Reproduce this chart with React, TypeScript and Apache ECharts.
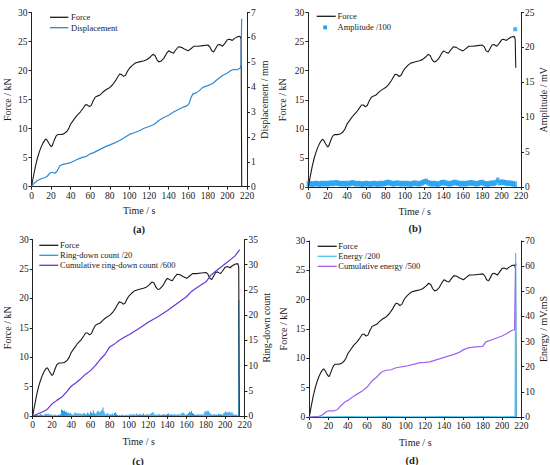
import React, { useEffect, useRef } from "react";
import * as echarts from "echarts";

// ---------- data ----------
const forceTime = [0, 2, 4, 6, 8, 10, 12, 14, 15, 16, 18, 20, 21, 23, 25, 27, 30, 33, 36, 38, 40, 43, 46, 50, 53, 55, 57, 59, 61, 63, 65, 67, 70, 73, 76, 80, 83, 86, 88, 90, 92, 94, 96, 98, 100, 103, 106, 110, 115, 118, 121, 124, 126, 128, 130, 132, 135, 138, 140, 143, 145, 147, 150, 153, 156, 160, 163, 166, 170, 175, 180, 182, 184, 186, 188, 190, 192, 195, 197, 200, 202, 205, 207, 210, 213, 214];
const forceKN = [0, 1.8, 3.5, 4.9, 6.0, 6.9, 7.6, 8.1, 8.2, 8.0, 7.4, 6.9, 7.0, 7.9, 8.7, 9.0, 9.0, 9.1, 9.5, 10.0, 10.8, 11.5, 12.2, 12.9, 13.6, 14.1, 14.1, 13.8, 14.0, 14.8, 15.4, 15.6, 15.8, 16.3, 16.7, 17.1, 17.6, 18.3, 18.9, 19.4, 19.3, 19.0, 19.2, 19.9, 20.4, 20.9, 21.3, 21.5, 21.7, 21.9, 22.3, 22.8, 22.6, 21.9, 21.5, 21.6, 22.1, 23.0, 23.4, 23.1, 23.0, 23.5, 24.1, 24.0, 23.7, 23.4, 23.8, 24.2, 24.2, 24.3, 24.4, 24.1, 23.4, 23.2, 23.8, 24.4, 24.5, 24.2, 24.6, 25.3, 25.4, 25.2, 25.5, 25.8, 25.9, 25.4];
const forceEndTime = 214.6;
const forceEndA = 0;
const forceEndB = 20.5;

const dispTime = [0, 3, 6, 10, 14, 16, 19, 21, 24, 26, 29, 32, 36, 40, 44, 48, 52, 56, 60, 64, 68, 72, 76, 80, 85, 90, 95, 100, 105, 110, 115, 120, 125, 130, 135, 140, 145, 150, 155, 159, 161, 163, 165, 168, 171, 175, 180, 185, 190, 195, 200, 203, 206, 210, 213, 214, 214.5];
const dispMM = [0, 0.15, 0.25, 0.32, 0.37, 0.42, 0.55, 0.58, 0.54, 0.62, 0.84, 0.9, 0.93, 0.97, 1.04, 1.12, 1.18, 1.22, 1.32, 1.38, 1.46, 1.54, 1.62, 1.68, 1.76, 1.86, 1.98, 2.1, 2.17, 2.25, 2.35, 2.42, 2.5, 2.66, 2.78, 2.87, 3.0, 3.1, 3.2, 3.26, 3.35, 3.6, 3.74, 3.76, 3.85, 3.99, 4.06, 4.15, 4.32, 4.47, 4.57, 4.66, 4.71, 4.7, 4.76, 4.9, 6.75];

// amplitude /100, every 2 s from t = 0
const amplitudeStep = 2;
const amplitude = [
  0.9, 0.85, 0.8, 0.85, 0.9, 0.85, 0.8, 0.9, 0.85, 0.9,
  0.85, 0.9, 0.95, 0.9, 1.0, 0.95, 0.9, 0.85, 0.9, 0.85,
  0.9, 0.85, 0.95, 1.0, 0.9, 0.85, 0.9, 0.85, 0.8, 0.85,
  0.9, 0.85, 0.8, 0.85, 0.9, 0.85, 0.8, 0.9, 0.85, 0.9,
  0.95, 1.05, 1.0, 0.9, 0.85, 0.9, 0.95, 0.9, 0.85, 0.9,
  0.85, 0.9, 0.85, 0.8, 0.9, 0.95, 0.9, 0.85, 0.9, 1.0,
  1.15, 1.2, 1.0, 0.9, 0.85, 0.9, 0.85, 0.8, 0.9, 1.0,
  1.05, 0.95, 0.9, 0.85, 0.9, 1.0, 1.05, 0.95, 0.9, 0.85,
  0.9, 0.85, 0.9, 0.95, 1.0, 0.95, 0.9, 0.85, 0.9, 1.0,
  1.05, 0.9, 0.85, 0.8, 0.9, 0.95, 0.9, 1.05, 1.35, 1.0,
  1.1, 1.05, 1.0, 0.9, 0.95, 0.9, 0.85, 0.8,
];
const amplitudeOutlier = [214, 22.6];

// ring-down count /20, every 1 s from t = 0
const ringDown = [
  0, 0, 0.1, 0.2, 0.3, 0.2, 0.1, 0.2, 0.4, 0.3,
  0.2, 0.1, 0.2, 0.5, 0.4, 0.3, 0.5, 0.3, 0.2, 0.4,
  0.1, 0.2, 0.1, 0.3, 0.2, 0.1, 0.2, 0.3, 0.2, 0.4,
  1.3, 1.2, 1.0, 1.1, 0.8, 0.9, 0.6, 0.7, 0.5, 0.6,
  0.4, 0.3, 0.2, 0.5, 0.7, 0.6, 0.4, 0.5, 0.6, 0.3,
  0.5, 0.4, 0.3, 0.6, 0.5, 0.4, 0.3, 0.7, 0.5, 0.3,
  0.9, 0.7, 0.5, 1.1, 0.6, 0.4, 0.5, 0.9, 1.0, 0.7,
  0.8, 1.0, 1.2, 1.7, 0.9, 0.5, 0.3, 0.4, 0.6, 0.3,
  0.2, 0.4, 0.3, 0.5, 0.2, 0.6, 0.7, 0.4, 0.2, 0.1,
  0.2, 0.1, 0.2, 0.3, 0.1, 0.2, 0.1, 0.3, 0.2, 0.1,
  0.3, 0.2, 0.4, 0.3, 0.2, 0.4, 0.3, 0.2, 0.5, 0.3,
  0.2, 0.4, 0.3, 0.2, 0.3, 0.5, 0.2, 0.3, 0.2, 0.4,
  0.3, 0.2, 0.4, 0.5, 0.6, 0.8, 0.4, 0.3, 0.2, 0.3,
  0.2, 0.4, 0.3, 0.2, 0.3, 0.2, 0.4, 0.3, 0.2, 0.3,
  0.4, 0.5, 0.3, 0.2, 0.4, 0.3, 0.2, 0.4, 0.3, 0.2,
  0.3, 0.4, 0.2, 0.3, 0.5, 0.4, 0.7, 0.6, 0.3, 0.2,
  0.3, 0.4, 0.6, 0.9, 0.7, 1.0, 0.6, 0.4, 0.3, 0.2,
  0.3, 0.2, 0.4, 0.3, 0.2, 0.4, 0.3, 0.2, 0.5, 0.9,
  1.0, 0.8, 1.1, 0.9, 0.6, 0.4, 0.3, 0.2, 0.3, 0.4,
  0.2, 0.3, 0.2, 0.4, 0.3, 0.4, 0.3, 0.2, 0.5, 0.6,
  0.9, 0.7, 0.8, 0.6, 0.9, 0.7, 0.5, 0.8, 0.4, 0.3,
  0.2, 0.3, 0.2, 0.1, 23.0,
];

const cumRingTime = [0, 5, 10, 15, 20, 25, 30, 35, 40, 45, 50, 55, 60, 65, 70, 75, 80, 85, 90, 95, 100, 110, 120, 130, 140, 150, 160, 165, 170, 180, 185, 190, 200, 210, 213, 215];
const cumRingVal = [0, 0.4, 0.8, 1.3, 2.4, 3.1, 3.7, 4.75, 5.9, 6.6, 7.4, 8.3, 9.0, 10.0, 11.2, 12.2, 13.7, 14.3, 15.0, 15.6, 16.1, 17.3, 18.6, 19.7, 20.9, 22.3, 23.7, 24.7, 25.4, 26.6, 27.9, 28.7, 30.2, 31.7, 32.5, 33.0];

const energyTime = [0, 20, 40, 60, 80, 100, 120, 140, 160, 180, 200, 213.6, 214.1, 214.6];
const energyVal = [0, 0.1, 0.2, 0.1, 0.2, 0.1, 0.1, 0.2, 0.1, 0.2, 0.1, 0.2, 65.2, 0];

const cumEnergyTime = [0, 10, 13, 15, 18, 20, 25, 29, 33, 37, 40, 45, 50, 55, 60, 65, 70, 75, 80, 85, 90, 100, 110, 115, 120, 125, 130, 140, 150, 155, 160, 165, 170, 180, 183, 190, 200, 205, 210, 213, 214, 215];
const cumEnergyVal = [0, 0.3, 0.7, 1.3, 2.2, 2.4, 2.4, 2.9, 4.6, 6.0, 6.6, 8.0, 9.2, 10.3, 11.9, 14.3, 15.9, 17.9, 18.6, 18.8, 19.6, 20.2, 21.1, 21.6, 21.7, 21.9, 22.5, 23.7, 24.9, 25.6, 26.8, 27.5, 27.8, 28.1, 29.8, 30.8, 32.2, 33.2, 34.4, 34.7, 60.3, 61.0];

// ---------- styling ----------
const FONT = "Liberation Serif";
const INK = "#1a1a1a";
const C_FORCE = "#1a1a1a";
const C_DISP = "#2b8ad6";
const C_AMP = "#1e9ff0";
const C_RING = "#1f9be8";
const C_CUMRING = "#6b35d4";
const C_ENERGY = "#4cc3f3";
const C_CUMEN = "#a062f0";

const pairs = (ts: number[], vs: number[]) => ts.map((t, i) => [t, vs[i]]);

const forceA = [...pairs(forceTime, forceKN), [forceEndTime, forceEndA]];
const forceB = [...pairs(forceTime, forceKN), [forceEndTime, forceEndB]];

const grids = [
  { left: 31.5, top: 12.5, width: 215.5, height: 174.2 },
  { left: 308.3, top: 12.5, width: 212.7, height: 174.5 },
  { left: 32.7, top: 239.5, width: 211.8, height: 176.5 },
  { left: 309.3, top: 241, width: 212, height: 176 },
];

const axisLineStyle = { color: "#222", width: 1 };

function xAx(gridIndex: number, nameGap: number) {
  return {
    type: "value",
    gridIndex,
    min: 0,
    max: 220,
    interval: 20,
    name: "Time / s",
    nameLocation: "middle",
    nameGap,
    nameTextStyle: { fontFamily: FONT, fontSize: 10, color: INK },
    axisLine: { show: true, onZero: false, lineStyle: axisLineStyle },
    axisTick: { show: true, inside: false, length: 3, lineStyle: axisLineStyle },
    axisLabel: { fontFamily: FONT, fontSize: 9.5, color: INK, margin: 4 },
    splitLine: { show: false },
  };
}

function yAx(gridIndex: number, position: string, max: number, interval: number, name: string, nameGap: number) {
  return {
    type: "value",
    gridIndex,
    position,
    min: 0,
    max,
    interval,
    name,
    nameLocation: "middle",
    nameRotate: 90,
    nameGap,
    nameTextStyle: { fontFamily: FONT, fontSize: 10, color: INK },
    axisLine: { show: true, onZero: false, lineStyle: axisLineStyle },
    axisTick: { show: true, inside: false, length: 3, lineStyle: axisLineStyle },
    axisLabel: { fontFamily: FONT, fontSize: 9.5, color: INK, margin: 4 },
    splitLine: { show: false },
  };
}

function legendLine(x1: number, x2: number, y: number, color: string, label: string, tx: number) {
  return [
    { type: "line", shape: { x1, y1: y, x2, y2: y }, style: { stroke: color, lineWidth: 1.3 } },
    {
      type: "text",
      x: tx,
      y,
      style: { text: label, fontFamily: FONT, fontSize: 8.5, fill: INK, align: "left", verticalAlign: "middle" },
    },
  ];
}

function panelLabel(letter: string, x: number, y: number) {
  return {
    type: "text",
    x,
    y,
    style: {
      text: `(${letter})`,
      fontFamily: FONT,
      fontSize: 10.5,
      fontWeight: "bold",
      fill: INK,
      align: "center",
      verticalAlign: "middle",
    },
  };
}

const lineSeries = (name: string, data: number[][], xi: number, yi: number, color: string, width = 1.1) => ({
  type: "line",
  name,
  data,
  xAxisIndex: xi,
  yAxisIndex: yi,
  showSymbol: false,
  symbol: "none",
  lineStyle: { color, width },
  itemStyle: { color },
  z: 3,
});

const option = {
  animation: false,
  backgroundColor: "#ffffff",
  grid: grids,
  xAxis: [xAx(0, 18.5), xAx(1, 19), xAx(2, 20), xAx(3, 20)],
  yAxis: [
    yAx(0, "left", 30, 5, "Force / kN", 19.5),
    yAx(0, "right", 7, 1, "Displacement / mm", 12),
    yAx(1, "left", 30, 5, "Force / kN", 20.5),
    yAx(1, "right", 25, 5, "Amplitude / mV", 15),
    yAx(2, "left", 30, 5, "Force / kN", 20.5),
    yAx(2, "right", 35, 5, "Ring-down count", 15.5),
    yAx(3, "left", 30, 5, "Force / kN", 21),
    yAx(3, "right", 70, 10, "Energy / mV.mS", 15),
  ],
  series: [
    // (a)
    lineSeries("Force", forceA, 0, 0, C_FORCE),
    lineSeries("Displacement", pairs(dispTime, dispMM), 0, 1, C_DISP, 1.2),
    // (b)
    {
      type: "scatter",
      name: "Amplitude /100",
      xAxisIndex: 1,
      yAxisIndex: 3,
      symbol: "rect",
      symbolSize: [3.5, 5.5],
      symbolOffset: [0, "50%"],
      itemStyle: { color: C_AMP },
      data: amplitude.map((v, i) => [i * amplitudeStep, v]),
      z: 2,
    },
    {
      type: "scatter",
      name: "Amplitude /100",
      xAxisIndex: 1,
      yAxisIndex: 3,
      symbol: "rect",
      symbolSize: 4,
      itemStyle: { color: C_AMP },
      data: [amplitudeOutlier],
      z: 2,
    },
    lineSeries("Force", forceB, 1, 2, C_FORCE),
    // (c)
    {
      type: "bar",
      name: "Ring-down count /20",
      xAxisIndex: 2,
      yAxisIndex: 5,
      barWidth: 1,
      itemStyle: { color: C_RING },
      data: ringDown.map((v, i) => [i, v]),
      z: 2,
    },
    lineSeries("Force", forceA, 2, 4, C_FORCE),
    lineSeries("Cumulative ring-down count /600", pairs(cumRingTime, cumRingVal), 2, 5, C_CUMRING, 1.2),
    // (d)
    lineSeries("Force", forceA, 3, 6, C_FORCE),
    lineSeries("Energy /200", pairs(energyTime, energyVal), 3, 7, C_ENERGY, 1.2),
    lineSeries("Cumulative energy /500", pairs(cumEnergyTime, cumEnergyVal), 3, 7, C_CUMEN, 1.2),
  ],
  graphic: [
    ...legendLine(50, 68.3, 17.3, C_FORCE, "Force", 71),
    ...legendLine(50, 68.3, 27.7, C_DISP, "Displacement", 71),
    ...legendLine(316.7, 335.7, 16.3, C_FORCE, "Force", 337.5),
    { type: "rect", shape: { x: 323.2, y: 25.5, width: 3.8, height: 3.8 }, style: { fill: C_AMP } },
    {
      type: "text",
      x: 337.5,
      y: 27.4,
      style: { text: "Amplitude /100", fontFamily: FONT, fontSize: 8.5, fill: INK, align: "left", verticalAlign: "middle" },
    },
    ...legendLine(39.3, 58.3, 245.3, C_FORCE, "Force", 60),
    ...legendLine(39.3, 58.3, 255.3, C_RING, "Ring-down count /20", 60),
    ...legendLine(39.3, 58.3, 265.3, C_CUMRING, "Cumulative ring-down count /600", 60),
    ...legendLine(317.7, 336.7, 246.3, C_FORCE, "Force", 338.3),
    ...legendLine(317.7, 336.7, 256.3, C_ENERGY, "Energy /200", 338.3),
    ...legendLine(317.7, 336.7, 266.3, C_CUMEN, "Cumulative energy /500", 338.3),
    panelLabel("a", 139, 229),
    panelLabel("b", 415, 228),
    panelLabel("c", 138, 461),
    panelLabel("d", 412, 460.5),
  ],
};

export default function App() {
  const ref = useRef<HTMLDivElement>(null);
  useEffect(() => {
    if (!ref.current) return;
    const chart = echarts.init(ref.current, null, { renderer: "svg" });
    chart.setOption(option as any);
    return () => chart.dispose();
  }, []);
  return (
    <div
      ref={ref}
      style={{ position: "absolute", left: 0, top: 0, width: 550, height: 465, background: "#fff" }}
    />
  );
}
